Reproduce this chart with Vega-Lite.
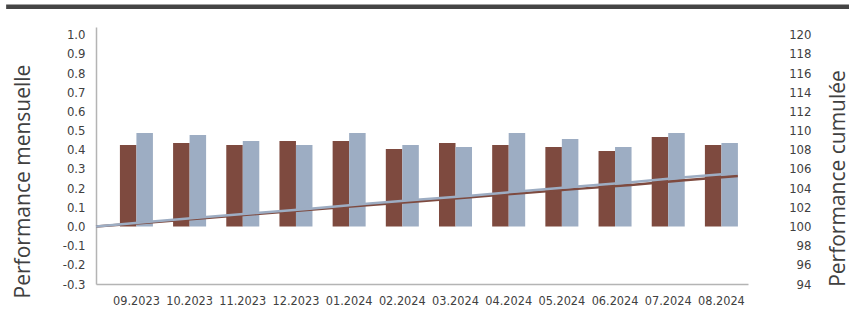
{
  "$schema": "https://vega.github.io/schema/vega-lite/v6.json",
  "width": 652,
  "height": 257,
  "autosize": {"type": "none"},
  "padding": {"top": 27, "left": 96, "right": 101, "bottom": 26},
  "background": "white",
  "config": {"view": {"stroke": null}, "axis": {"labelOverlap": false}},
  "datasets": {
    "bars": [
      {"month": "09.2023", "series": "A", "perf": 0.425}, {"month": "09.2023", "series": "B", "perf": 0.487},
      {"month": "10.2023", "series": "A", "perf": 0.435}, {"month": "10.2023", "series": "B", "perf": 0.477},
      {"month": "11.2023", "series": "A", "perf": 0.425}, {"month": "11.2023", "series": "B", "perf": 0.445},
      {"month": "12.2023", "series": "A", "perf": 0.445}, {"month": "12.2023", "series": "B", "perf": 0.425},
      {"month": "01.2024", "series": "A", "perf": 0.445}, {"month": "01.2024", "series": "B", "perf": 0.487},
      {"month": "02.2024", "series": "A", "perf": 0.404}, {"month": "02.2024", "series": "B", "perf": 0.425},
      {"month": "03.2024", "series": "A", "perf": 0.435}, {"month": "03.2024", "series": "B", "perf": 0.414},
      {"month": "04.2024", "series": "A", "perf": 0.425}, {"month": "04.2024", "series": "B", "perf": 0.487},
      {"month": "05.2024", "series": "A", "perf": 0.414}, {"month": "05.2024", "series": "B", "perf": 0.456},
      {"month": "06.2024", "series": "A", "perf": 0.393}, {"month": "06.2024", "series": "B", "perf": 0.414},
      {"month": "07.2024", "series": "A", "perf": 0.466}, {"month": "07.2024", "series": "B", "perf": 0.487},
      {"month": "08.2024", "series": "A", "perf": 0.425}, {"month": "08.2024", "series": "B", "perf": 0.435}
    ],
    "lines": [
      {"idx": 0, "series": "A", "cumul": 100.0}, {"idx": 1, "series": "A", "cumul": 100.425},
      {"idx": 2, "series": "A", "cumul": 100.862}, {"idx": 3, "series": "A", "cumul": 101.291},
      {"idx": 4, "series": "A", "cumul": 101.742}, {"idx": 5, "series": "A", "cumul": 102.194},
      {"idx": 6, "series": "A", "cumul": 102.607}, {"idx": 7, "series": "A", "cumul": 103.053},
      {"idx": 8, "series": "A", "cumul": 103.491}, {"idx": 9, "series": "A", "cumul": 103.920},
      {"idx": 10, "series": "A", "cumul": 104.328}, {"idx": 11, "series": "A", "cumul": 104.814},
      {"idx": 12, "series": "A", "cumul": 105.260},
      {"idx": 0, "series": "B", "cumul": 100.0}, {"idx": 1, "series": "B", "cumul": 100.487},
      {"idx": 2, "series": "B", "cumul": 100.966}, {"idx": 3, "series": "B", "cumul": 101.416},
      {"idx": 4, "series": "B", "cumul": 101.847}, {"idx": 5, "series": "B", "cumul": 102.343},
      {"idx": 6, "series": "B", "cumul": 102.778}, {"idx": 7, "series": "B", "cumul": 103.203},
      {"idx": 8, "series": "B", "cumul": 103.706}, {"idx": 9, "series": "B", "cumul": 104.179},
      {"idx": 10, "series": "B", "cumul": 104.610}, {"idx": 11, "series": "B", "cumul": 105.120},
      {"idx": 12, "series": "B", "cumul": 105.577}
    ]
  },
  "layer": [
    {
      "data": {"name": "bars"},
      "mark": {"type": "bar"},
      "encoding": {
        "x": {
          "field": "month", "type": "nominal", "sort": null,
          "scale": {"paddingInner": 0, "paddingOuter": 0.13, "align": 1},
          "axis": {
            "title": null, "ticks": false, "domainColor": "#b4b4b4", "domainWidth": 1.5,
            "labelFont": "DejaVu Sans Condensed, sans-serif", "labelOverlap": false,
            "labelFontSize": 12.6, "labelColor": "#404040", "labelPadding": 10, "labelAngle": 0
          }
        },
        "xOffset": {"field": "series", "type": "nominal", "scale": {"paddingInner": 0, "paddingOuter": 0.611}},
        "y": {
          "field": "perf", "type": "quantitative",
          "scale": {"domain": [-0.3, 1.04], "nice": false, "zero": false},
          "axis": {
            "orient": "left", "grid": false, "ticks": false, "labelOverlap": false,
            "values": [-0.3, -0.2, -0.1, 0, 0.1, 0.2, 0.3, 0.4, 0.5, 0.6, 0.7, 0.8, 0.9, 1.0],
            "labelExpr": "replace(format(datum.value, '.1f'), '\u2212', '-')",
            "domainColor": "#b4b4b4", "domainWidth": 1.5,
            "labelFont": "DejaVu Sans Condensed, sans-serif",
            "labelFontSize": 13, "labelColor": "#404040", "labelPadding": 11,
            "title": "Performance mensuelle", "titleFont": "Open Sans", "titleFontSize": 21,
            "titleFontWeight": "normal", "titleColor": "#404040", "titleAngle": -90,
            "titleX": -67, "titleY": 154, "titleAlign": "center", "titleBaseline": "alphabetic"
          }
        },
        "color": {
          "field": "series", "type": "nominal",
          "scale": {"domain": ["A", "B"], "range": ["#7e4a3f", "#9dadc3"]},
          "legend": null
        }
      }
    },
    {
      "layer": [
        {
          "data": {"name": "lines"},
          "mark": {"type": "line", "strokeWidth": 2.5},
          "encoding": {
            "x": {"field": "idx", "type": "quantitative", "scale": {"domain": [0, 12.19], "nice": false, "zero": false}, "axis": null},
            "y": {
              "field": "cumul", "type": "quantitative",
              "scale": {"domain": [94, 120.8], "nice": false, "zero": false},
              "axis": {
                "orient": "right", "grid": false, "ticks": false, "domain": false, "labelOverlap": false,
                "values": [94, 96, 98, 100, 102, 104, 106, 108, 110, 112, 114, 116, 118, 120],
                "labelFont": "DejaVu Sans Condensed, sans-serif",
                "labelFontSize": 13, "labelColor": "#404040", "labelPadding": 63, "labelAlign": "right",
                "title": "Performance cumulée", "titleFont": "Open Sans", "titleFontSize": 21,
                "titleFontWeight": "normal", "titleColor": "#404040", "titleAngle": -90,
                "titleX": 96, "titleY": 151, "titleAlign": "center", "titleBaseline": "alphabetic"
              }
            },
            "color": {
              "field": "series", "type": "nominal",
              "scale": {"domain": ["A", "B"], "range": ["#7e4a3f", "#a3b3c9"]},
              "legend": null
            }
          }
        },
        {
          "data": {"values": [{}]},
          "mark": {"type": "rule", "color": "#454545", "strokeWidth": 4.5},
          "encoding": {
            "x": {"datum": -1.68, "type": "quantitative", "axis": null},
            "x2": {"datum": 14.1},
            "y": {
              "datum": 122.92, "type": "quantitative",
              "axis": {
                "orient": "right", "grid": false, "ticks": false, "domain": false, "labelOverlap": false,
                "values": [94, 96, 98, 100, 102, 104, 106, 108, 110, 112, 114, 116, 118, 120],
                "labelFont": "DejaVu Sans Condensed, sans-serif",
                "labelFontSize": 13, "labelColor": "#404040", "labelPadding": 63, "labelAlign": "right",
                "title": "Performance cumulée", "titleFont": "Open Sans", "titleFontSize": 21,
                "titleFontWeight": "normal", "titleColor": "#404040", "titleAngle": -90,
                "titleX": 96, "titleY": 151, "titleAlign": "center", "titleBaseline": "alphabetic"
              }
            }
          }
        }
      ]
    }
  ],
  "resolve": {"scale": {"x": "independent", "y": "independent"}}
}
